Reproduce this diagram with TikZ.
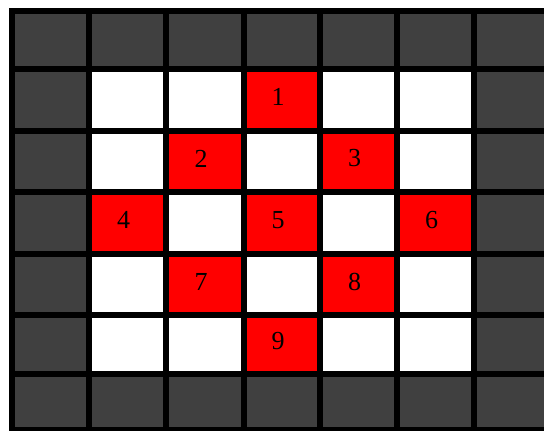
\documentclass[tikz,border=0pt]{standalone}
\usepackage{fontspec}
\setmainfont{Liberation Serif}
\definecolor{cellgray}{HTML}{404040}
\definecolor{cellred}{HTML}{FF0000}
\begin{document}
\begin{tikzpicture}[x=1pt,y=-1pt,
  gridline/.style={line width=5.5pt, line cap=rect, black},
  redcell/.style={fill=cellred},
  lab/.style={font=\fontsize{26}{26}\selectfont, inner sep=0pt, text=black}]
\useasboundingbox (0,0) rectangle (544,431);
\def\xs{{12,89,166,244,320,397,474,551}}
\def\ys{{11,69,131,192,254,315,374,430}}
% background grey frame and white interior
\fill[cellgray] (12,11) rectangle (551,430);
\fill[white] (89,69) rectangle (474,374);
% red cells
\foreach \c/\r/\t in {3/1/1,2/2/2,4/2/3,1/3/4,3/3/5,5/3/6,2/4/7,4/4/8,3/5/9}{
  \pgfmathsetmacro{\xa}{\xs[\c]}
  \pgfmathsetmacro{\xb}{\xs[\c+1]}
  \pgfmathsetmacro{\ya}{\ys[\r]}
  \pgfmathsetmacro{\yb}{\ys[\r+1]}
  \fill[redcell] (\xa,\ya) rectangle (\xb,\yb);
  \node[lab] (n\t) at ({(\xa+\xb)/2-4},{(\ya+\yb)/2-3}) {\t};
}
% grid lines
\foreach \i in {0,...,7}{
  \pgfmathsetmacro{\xx}{\xs[\i]}
  \draw[gridline] (\xx,11) -- (\xx,430);
}
\foreach \j in {0,...,7}{
  \pgfmathsetmacro{\yy}{\ys[\j]}
  \draw[gridline] (12,\yy) -- (551,\yy);
}
\end{tikzpicture}
\end{document}
